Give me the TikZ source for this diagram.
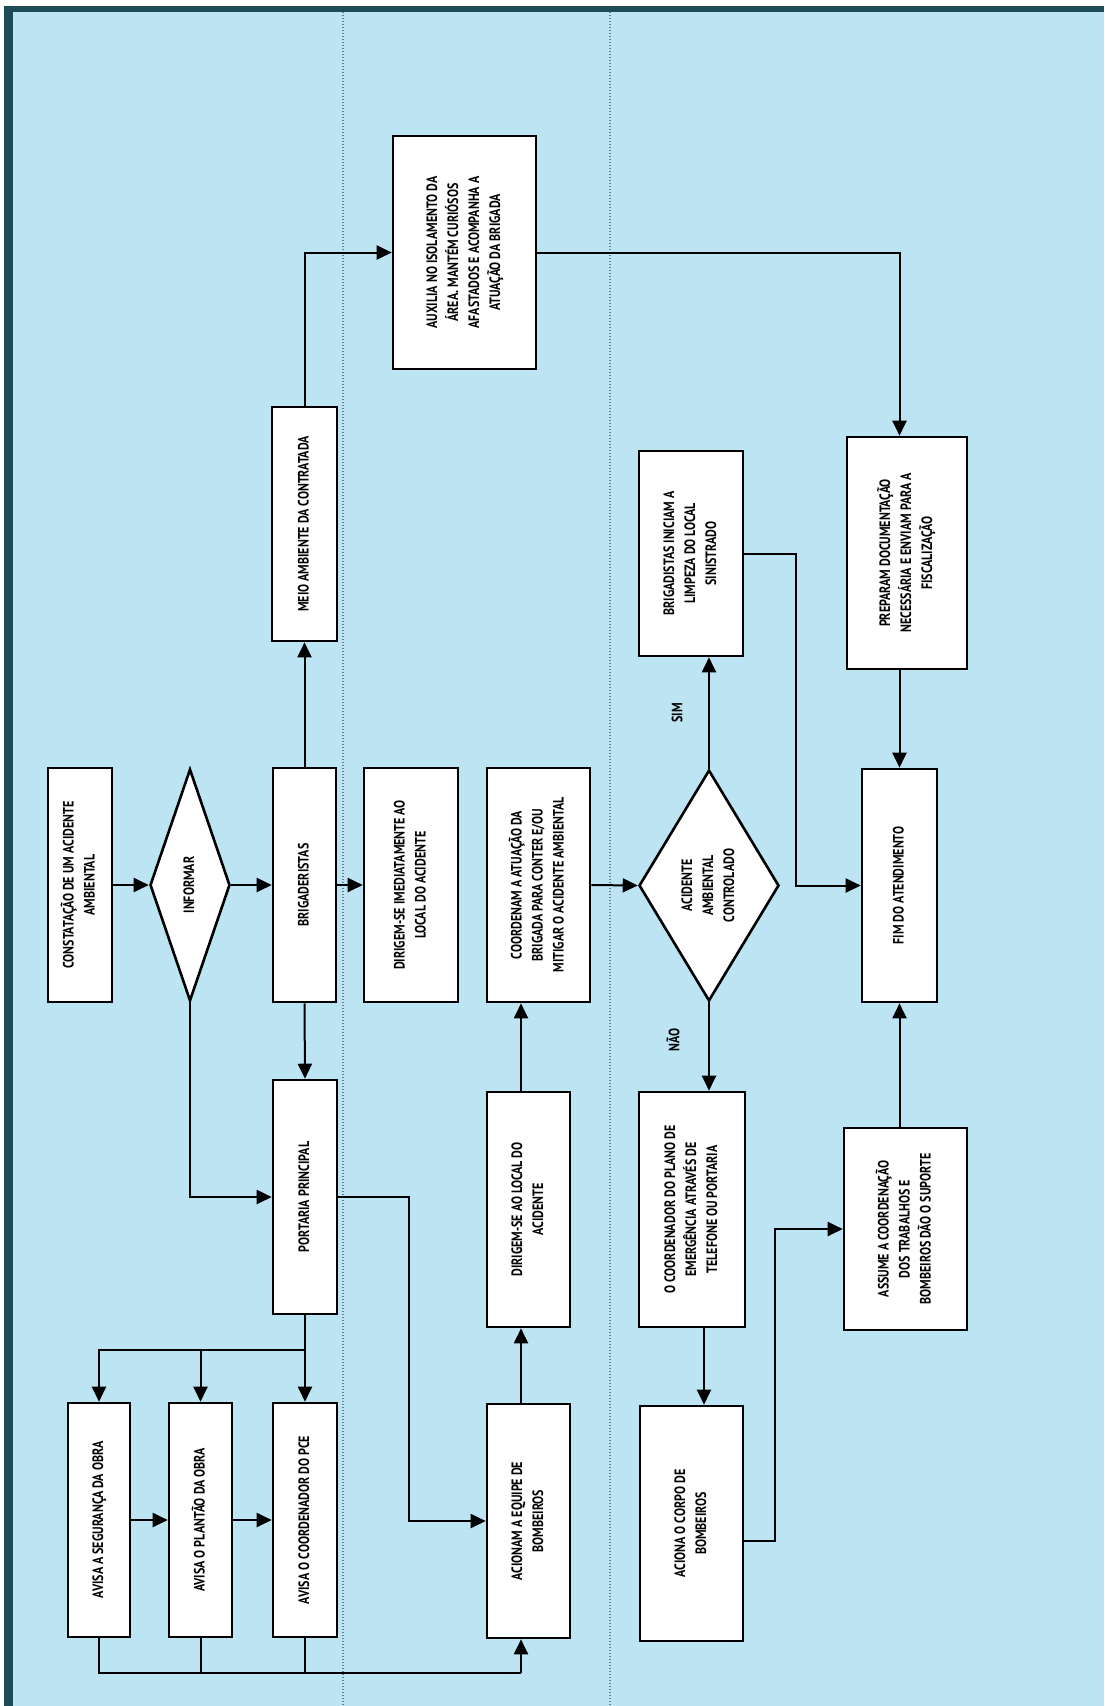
\documentclass[tikz,border=0pt]{standalone}
\usepackage{fontspec}
\setmainfont{PT Sans}[FakeStretch=0.8]
\usepackage{graphicx}
\usetikzlibrary{arrows.meta,shapes.geometric,calc}
\definecolor{bgblue}{RGB}{188,228,242}
\definecolor{framec}{RGB}{30,76,86}
\definecolor{dotc}{RGB}{105,125,145}
\newcommand{\rtx}[1]{\rotatebox{90}{\begin{tabular}{@{}c@{}}#1\end{tabular}}}
\tikzset{
  box/.style={draw=black, line width=2.6pt, fill=white, rectangle, inner sep=0pt,
    font=\fontsize{15}{21}\selectfont\bfseries},
  dia/.style={draw=black, line width=2.6pt, fill=white, diamond, inner sep=1pt,
    font=\fontsize{15}{21}\selectfont\bfseries},
  lbl/.style={font=\fontsize{15}{21}\selectfont\bfseries, inner sep=0pt},
  arr/.style={line width=2pt, -{Triangle[length=15pt,width=14pt]}},
  ln/.style={line width=2pt},
  sep/.style={dotc, line width=1.2pt, dash pattern=on 1.2pt off 1.8pt}
}
\begin{document}
\begin{tikzpicture}[x=1pt,y=-1pt]
\useasboundingbox (0,0) rectangle (1104,1706);
\fill[white] (0,0) rectangle (1104,1706);
\fill[bgblue] (4,6) rectangle (1104,1706);
\fill[framec] (4,6) rectangle (1104,12);
\fill[framec] (4,6) rectangle (13,1706);
% lane separators
\draw[sep] (343,12) -- (343,1706);
\draw[sep] (610,12) -- (610,1706);
% helper coordinates
\coordinate (kA) at (521,0);
\coordinate (kB) at (409,0);
\coordinate (kC) at (775,0);
\coordinate (kD) at (796,0);
\coordinate (kF) at (704,0);
\coordinate (busT) at (0,1350);
\coordinate (busB) at (0,1673);
\coordinate (kG) at (0,1541);
% nodes
\node[box, minimum width=64pt, minimum height=234pt] (const) at (80,885) {\rtx{CONSTATAÇÃO DE UM ACIDENTE\\AMBIENTAL}};
\node[dia, minimum width=80pt, minimum height=232pt, aspect=0.345] (inf) at (190,885) {\rtx{INFORMAR}};
\node[box, minimum width=63pt, minimum height=234pt] (brig) at (304.5,885) {\rtx{BRIGADERISTAS}};
\node[box, minimum width=94pt, minimum height=234pt] (dir1) at (411,885) {\rtx{DIRIGEM-SE IMEDIATAMENTE AO\\LOCAL DO ACIDENTE}};
\node[box, minimum width=103pt, minimum height=234pt] (coordm) at (538.5,885) {\rtx{COORDENAM A ATUAÇÃO DA\\BRIGADA PARA CONTER E/OU\\MITIGAR O ACIDENTE AMBIENTAL}};
\node[dia, minimum width=140pt, minimum height=231pt, aspect=0.606] (ctrl) at (709,885.5) {\rtx{ACIDENTE\\AMBIENTAL\\CONTROLADO}};
\node[box, minimum width=75pt, minimum height=233pt] (fim) at (899.5,885.5) {\rtx{FIM DO ATENDIMENTO}};

\node[box, minimum width=65pt, minimum height=234pt] (meio) at (304.5,524) {\rtx{MEIO AMBIENTE DA CONTRATADA}};
\node[box, minimum width=143pt, minimum height=233pt] (aux) at (464.5,252.5) {\rtx{AUXILIA NO ISOLAMENTO DA\\ÁREA. MANTÉM CURIÓSOS\\AFASTADOS E ACOMPANHA A\\ATUAÇÃO DA BRIGADA}};
\node[box, minimum width=104pt, minimum height=205pt] (brigini) at (691,553.5) {\rtx{BRIGADISTAS INICIAM A\\LIMPEZA DO LOCAL\\SINISTRADO}};
\node[box, minimum width=120pt, minimum height=232pt] (prep) at (907,553) {\rtx{PREPARAM DOCUMENTAÇÃO\\NECESSÁRIA E ENVIAM PARA A\\FISCALIZAÇÃO}};

\node[box, minimum width=64pt, minimum height=234pt] (port) at (305,1197) {\rtx{PORTARIA PRINCIPAL}};
\node[box, minimum width=83pt, minimum height=235pt] (dir2) at (528.5,1209.5) {\rtx{DIRIGEM-SE AO LOCAL DO\\ACIDENTE}};
\node[box, minimum width=106pt, minimum height=235pt] (ocoord) at (692,1209.5) {\rtx{O COORDENADOR DO PLANO DE\\EMERGÊNCIA ATRAVÉS DE\\TELEFONE OU PORTARIA}};
\node[box, minimum width=123pt, minimum height=202pt] (assume) at (905.5,1229) {\rtx{ASSUME A COORDENAÇÃO\\DOS TRABALHOS E\\BOMBEIROS DÃO O SUPORTE}};

\node[box, minimum width=62pt, minimum height=234pt] (seg) at (99,1520) {\rtx{AVISA A SEGURANÇA DA OBRA}};
\node[box, minimum width=63pt, minimum height=234pt] (plant) at (200.5,1520) {\rtx{AVISA O PLANTÃO DA OBRA}};
\node[box, minimum width=64pt, minimum height=234pt] (pce) at (305,1520) {\rtx{AVISA O COORDENADOR DO PCE}};
\node[box, minimum width=83pt, minimum height=234pt] (acio) at (528.5,1521) {\rtx{ACIONAM A EQUIPE DE\\BOMBEIROS}};
\node[box, minimum width=103pt, minimum height=235pt] (corpo) at (691.5,1523.5) {\rtx{ACIONA O CORPO DE\\BOMBEIROS}};

\node[lbl] (sim) at (677,713) {\rotatebox{90}{SIM}};
\node[lbl] (nao) at (673,1040) {\rotatebox{90}{NÃO}};

% connectors
\draw[arr] (const.east) -- (inf.west);
\draw[arr] (inf.east) -- (brig.west);
\draw[arr] (brig.east) -- (dir1.west);
\draw[arr] (inf.south) |- (port.west);
\draw[arr] (brig.south) -- (port.north);
\draw[arr] (brig.north) -- (meio.south);
\draw[arr] (meio.north) |- (aux.west);
\draw[arr] (aux.east) -| (prep.north -| fim.north);
\draw[arr] (prep.south -| fim.north) -- (fim.north);
\draw[arr] (port.east) -| (port.east -| kB) |- (acio.west);
\draw[arr] (port.south) -- (pce.north);
\draw[arr] (port.south |- busT) -| (seg.north);
\draw[arr] (port.south |- busT) -| (plant.north);
\draw[arr] (seg.east) -- (plant.west);
\draw[arr] (plant.east) -- (pce.west);
\draw[ln] (seg.south) -- (seg.south |- busB) -- (busB -| kA);
\draw[ln] (plant.south) -- (plant.south |- busB);
\draw[ln] (pce.south) -- (pce.south |- busB);
\draw[arr] (busB -| kA) -- (acio.south -| kA);
\draw[arr] (acio.north -| kA) -- (dir2.south -| kA);
\draw[arr] (dir2.north -| kA) -- (coordm.south -| kA);
\draw[arr] (coordm.east) -- (ctrl.west);
\draw[arr] (ctrl.north) -- (brigini.south -| ctrl.north);
\draw[arr] (ctrl.south) -- (ocoord.north -| ctrl.south);
\draw[arr] (ocoord.south -| kF) -- (corpo.north -| kF);
\draw[arr] (corpo.east |- kG) -| (kC |- assume.west) -- (assume.west);
\draw[arr] (brigini.east) -| (kD |- fim.west) -- (fim.west);
\draw[arr] (assume.north -| fim.south) -- (fim.south);
\end{tikzpicture}
\end{document}
